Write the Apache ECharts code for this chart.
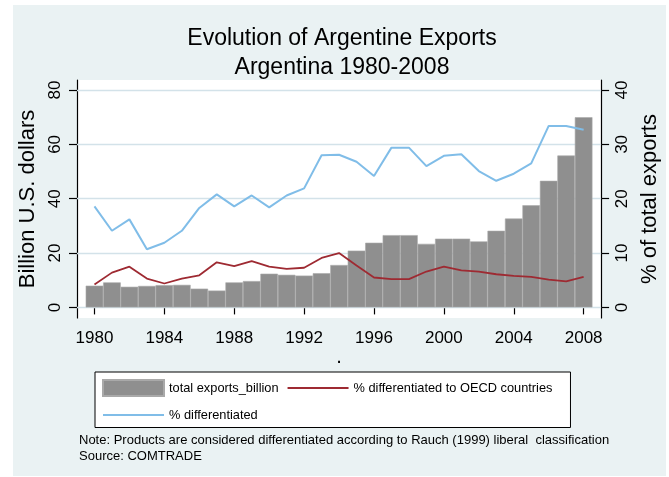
<!DOCTYPE html>
<html><head><meta charset="utf-8">
<script src="https://cdn.jsdelivr.net/npm/echarts@6/dist/echarts.min.js"></script>
<style>html,body{margin:0;padding:0;background:#fff}#c{width:669px;height:477px}</style>
</head><body><div id="c"></div><script>
const years = [1980,1981,1982,1983,1984,1985,1986,1987,1988,1989,1990,1991,1992,1993,1994,1995,1996,1997,1998,1999,2000,2001,2002,2003,2004,2005,2006,2007,2008];
const totalExports = [8.0,9.2,7.6,7.9,8.2,8.3,6.9,6.2,9.2,9.7,12.4,12.0,11.7,12.6,15.6,20.9,23.8,26.6,26.6,23.4,25.3,25.3,24.3,28.2,32.7,37.6,46.6,55.9,70.0];
const pctDiffOECD = [4.2,6.4,7.5,5.3,4.4,5.3,5.9,8.3,7.6,8.5,7.5,7.1,7.3,9.1,10.0,7.7,5.5,5.2,5.2,6.6,7.5,6.8,6.6,6.1,5.8,5.6,5.1,4.8,5.6];
const pctDiff = [18.6,14.1,16.2,10.7,11.9,14.1,18.3,20.8,18.6,20.6,18.4,20.6,21.9,28.0,28.1,26.8,24.2,29.4,29.4,26.0,27.9,28.2,25.1,23.3,24.6,26.5,33.4,33.4,32.7];
const xTicks = [1980,1984,1988,1992,1996,2000,2004,2008];
const yLeftTicks = [0,20,40,60,80];
const yRightTicks = [0,10,20,30,40];
const names = ['total exports_billion','% differentiated to OECD countries','% differentiated'];

const SANS = "'Liberation Sans',Arial,Helvetica,sans-serif";
const LINE_ICON = 'path://M0,0H61V2H0Z';
const chart = echarts.init(document.getElementById('c'), null, {renderer:'canvas'});
const pair = (xs, ys) => xs.map((x,i)=>[x, ys[i]]);

chart.setOption({
  animation:false,
  backgroundColor:'#ffffff',
  graphic:[
    {type:'rect', z:-100, shape:{x:13,y:5,width:653,height:471}, style:{fill:'#eaf2f3'}, silent:true},
    {type:'text', x:342, y:27, style:{text:'Evolution of Argentine Exports', font:"23px "+SANS, fill:'#000', textAlign:'center'}},
    {type:'text', x:342, y:56, style:{text:'Argentina 1980-2008', font:"23px "+SANS, fill:'#000', textAlign:'center'}},
    {type:'text', x:79, y:434, style:{text:'Note: Products are considered differentiated according to Rauch (1999) liberal  classification', font:"13px "+SANS, fill:'#000'}},
    {type:'text', x:79, y:450, style:{text:'Source: COMTRADE', font:"13px "+SANS, fill:'#000'}}
  ],
  grid:{left:77, right:65, top:80, bottom:159, show:true, backgroundColor:'#ffffff', borderWidth:0, containLabel:false},
  legend:{
    data:[{name:names[0], icon:'rect'},{name:names[1], icon:LINE_ICON},{name:names[2], icon:LINE_ICON}],
    left:95, top:372, width:458, orient:'horizontal',
    backgroundColor:'#ffffff', borderColor:'#000', borderWidth:1, borderRadius:0,
    padding:[7,18,6,7], itemWidth:61, itemHeight:16, itemGap:9, symbolKeepAspect:true,
    textStyle:{fontFamily:SANS, fontSize:12.8, color:'#000'},
    selectedMode:false
  },
  xAxis:{
    type:'value', min:1979, max:2009,
    name:'.', nameLocation:'middle', nameGap:26, nameTextStyle:{fontSize:20, color:'#000', fontFamily:SANS},
    axisLine:{show:true, lineStyle:{color:'#000', width:1.2}},
    axisTick:{show:true, customValues:xTicks, length:7, lineStyle:{color:'#000', width:1.2}},
    axisLabel:{customValues:xTicks, margin:12, fontFamily:SANS, fontSize:17, color:'#000', formatter:v=>String(v)},
    splitLine:{show:false}
  },
  yAxis:[
    {type:'value', position:'left', min:-3.9, max:83.7,
     name:'Billion U.S. dollars', nameLocation:'middle', nameRotate:90, nameGap:38,
     nameTextStyle:{fontFamily:SANS, fontSize:22, color:'#000'},
     axisLine:{show:true, lineStyle:{color:'#000', width:1.2}},
     axisTick:{show:true, customValues:yLeftTicks, length:8, lineStyle:{color:'#000', width:1.2}},
     axisLabel:{customValues:yLeftTicks, rotate:90, margin:13, fontFamily:SANS, fontSize:17, color:'#000'},
     splitLine:{show:false}},
    {type:'value', position:'right', min:-1.95, max:41.85,
     name:'% of total exports', nameLocation:'middle', nameRotate:90, nameGap:34,
     nameTextStyle:{fontFamily:SANS, fontSize:22, color:'#000'},
     axisLine:{show:true, lineStyle:{color:'#000', width:1.2}},
     axisTick:{show:true, customValues:yRightTicks, length:8, lineStyle:{color:'#000', width:1.2}},
     axisLabel:{customValues:yRightTicks, rotate:90, margin:13, fontFamily:SANS, fontSize:17, color:'#000'},
     splitLine:{show:false}}
  ],
  series:[
    {type:'bar', name:names[0], data:pair(years,totalExports), yAxisIndex:0, z:2,
     barWidth:17.6, itemStyle:{color:'#8f8f8f', borderColor:'#a9a9a9', borderWidth:0.6},
     markLine:{silent:true, z:1, symbol:'none', label:{show:false}, animation:false,
       lineStyle:{color:'#d3e2e9', width:1.3, type:'solid'},
       data:yLeftTicks.map(v=>({yAxis:v}))}},
    {type:'line', name:names[1], data:pair(years,pctDiffOECD), yAxisIndex:1, z:3,
     symbol:'none', lineStyle:{color:'#9e2a32', width:1.8}, itemStyle:{color:'#9e2a32'}},
    {type:'line', name:names[2], data:pair(years,pctDiff), yAxisIndex:1, z:3,
     symbol:'none', lineStyle:{color:'#80bde8', width:2}, itemStyle:{color:'#80bde8'}}
  ]
});
</script></body></html>
